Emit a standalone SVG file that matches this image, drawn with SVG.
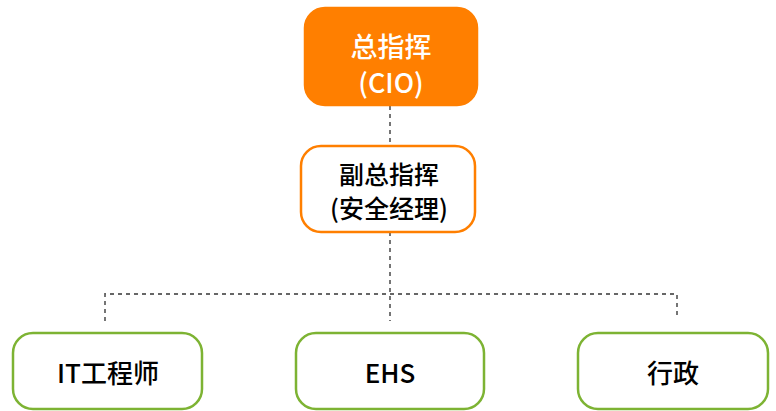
<svg xmlns="http://www.w3.org/2000/svg" width="776" height="411" viewBox="0 0 776 411">
<style>
text{font-family:"Noto Sans CJK SC","Noto Sans",sans-serif;font-weight:500;text-anchor:middle;dominant-baseline:central}
.lead{fill:#ff7f00;stroke:#ff7f00;stroke-width:2.5}
.dep{fill:#fff;stroke:#ff7f00;stroke-width:2.5}
.team{fill:#fff;stroke:#7db333;stroke-width:2.5}
.conn{fill:none;stroke:#666;stroke-width:1.8;stroke-dasharray:4 4}
</style>
<rect width="776" height="411" fill="#fff"/>
<g id="connectors">
<path class="conn" d="M390 106 V145"/>
<path class="conn" d="M390 232 V321"/>
<path class="conn" d="M105 321 V294 H677 V315"/>
</g>
<g id="cio">
<rect class="lead" x="305" y="8" width="172" height="97" rx="20"/>
<text x="391" y="45" font-size="27" fill="#fff">总指挥</text>
<text x="391" y="81" font-size="27" fill="#fff">(CIO)</text>
</g>
<g id="deputy">
<rect class="dep" x="301" y="146" width="174" height="86" rx="20"/>
<text x="389" y="173" font-size="25" fill="#000">副总指挥</text>
<text x="389" y="207" font-size="25" fill="#000">(安全经理)</text>
</g>
<g id="it">
<rect class="team" x="13" y="333" width="189" height="76" rx="20"/>
<text x="108" y="371" font-size="26" fill="#000">IT工程师</text>
</g>
<g id="ehs">
<rect class="team" x="296" y="333" width="188" height="76" rx="20"/>
<text x="390" y="371" font-size="26" fill="#000">EHS</text>
</g>
<g id="admin">
<rect class="team" x="578" y="333" width="190" height="76" rx="20"/>
<text x="673" y="371" font-size="26" fill="#000">行政</text>
</g>
</svg>
